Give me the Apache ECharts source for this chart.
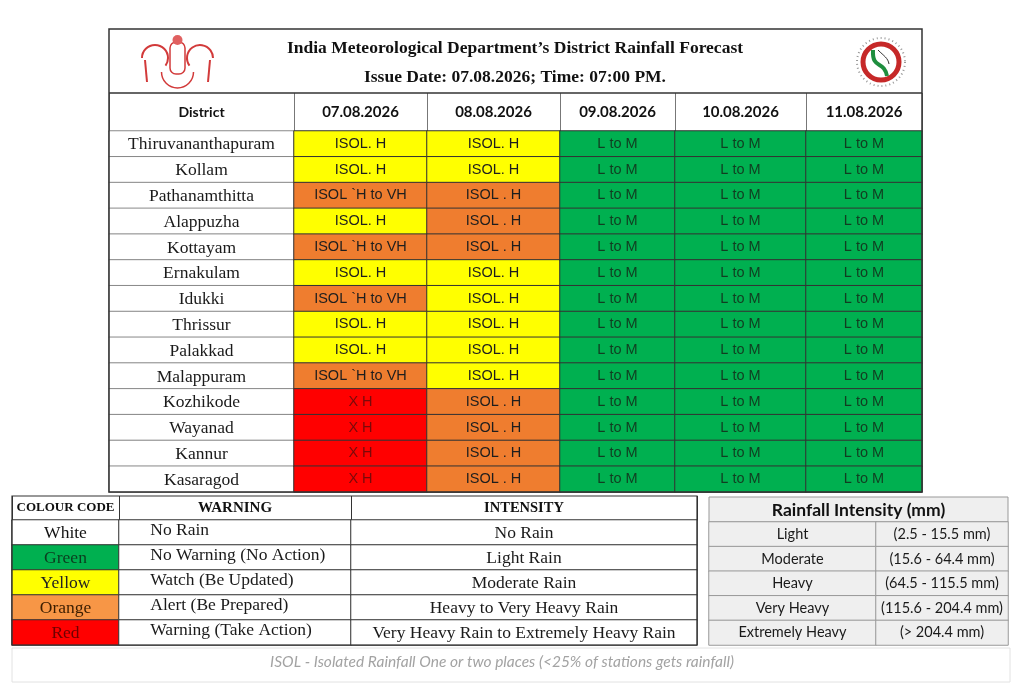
<!DOCTYPE html>
<html>
<head>
<meta charset="utf-8">
<script src="https://cdn.jsdelivr.net/npm/echarts@6/dist/echarts.min.js"></script>
<style>
	html, body { margin:0; padding:0; background:#fff; }
	#grafico { width:1024px; height:691px; }
</style>
</head>
<body>
<div id="grafico"></div>
<script>
	// DADOS DA PREVISAO POR DISTRITO
	// -----------------------------------------------------------------------------------------------
	var distritos = ['Thiruvananthapuram','Kollam','Pathanamthitta','Alappuzha','Kottayam','Ernakulam','Idukki',
		'Thrissur','Palakkad','Malappuram','Kozhikode','Wayanad','Kannur','Kasaragod'];
	var datas = ['07.08.2026','08.08.2026','09.08.2026','10.08.2026','11.08.2026'];

	// nivel do alerta: 0 branco, 1 verde, 2 amarelo, 3 laranja, 4 vermelho
	var nivel07 = [2,2,3,2,3,2,3,2,2,3,4,4,4,4];
	var nivel08 = [2,2,3,3,3,2,2,2,2,2,3,3,3,3];
	var nivel09 = [1,1,1,1,1,1,1,1,1,1,1,1,1,1];
	var nivel10 = [1,1,1,1,1,1,1,1,1,1,1,1,1,1];
	var nivel11 = [1,1,1,1,1,1,1,1,1,1,1,1,1,1];

	var texto07 = ['ISOL. H','ISOL. H','ISOL `H to VH','ISOL. H','ISOL `H to VH','ISOL. H','ISOL `H to VH',
		'ISOL. H','ISOL. H','ISOL `H to VH','X H','X H','X H','X H'];
	var texto08 = ['ISOL. H','ISOL. H','ISOL . H','ISOL . H','ISOL . H','ISOL. H','ISOL. H',
		'ISOL. H','ISOL. H','ISOL. H','ISOL . H','ISOL . H','ISOL . H','ISOL . H'];
	var texto09 = ['L to M','L to M','L to M','L to M','L to M','L to M','L to M','L to M','L to M','L to M','L to M','L to M','L to M','L to M'];
	var texto10 = ['L to M','L to M','L to M','L to M','L to M','L to M','L to M','L to M','L to M','L to M','L to M','L to M','L to M','L to M'];
	var texto11 = ['L to M','L to M','L to M','L to M','L to M','L to M','L to M','L to M','L to M','L to M','L to M','L to M','L to M','L to M'];
	var nivelDistrito = [0,0,0,0,0,0,0,0,0,0,0,0,0,0];

	// LEGENDAS
	var codigos = ['White','Green','Yellow','Orange','Red'];
	var nivelCodigo = [0,1,2,6,4];
	var avisos = ['No Rain','No Warning (No Action)','Watch (Be Updated)','Alert (Be Prepared)','Warning (Take Action)'];
	var intensidades = ['No Rain','Light Rain','Moderate Rain','Heavy to Very Heavy Rain','Very Heavy Rain to Extremely Heavy Rain'];
	var nivelBranco = [0,0,0,0,0];
	var classes = ['Light','Moderate','Heavy','Very Heavy','Extremely Heavy'];
	var faixas = ['(2.5 - 15.5 mm)','(15.6 - 64.4 mm)','(64.5 - 115.5 mm)','(115.6 - 204.4 mm)','(> 204.4 mm)'];
	var nivelCinza = [5,5,5,5,5];

	var cores = ['#ffffff','#00b050','#ffff00','#ef7d2f','#ff0000','#efefef','#f79646'];

	var serif = '"Liberation Serif", "DejaVu Serif", serif';
	var arial = '"Liberation Sans", Arial, sans-serif';
	var calibri = 'Lato, "Open Sans", sans-serif';

	var opcao = {
		animation: false,
		grid: [], xAxis: [], yAxis: [], series: [], graphic: [],
		visualMap: {
			type: 'piecewise', show: false, dimension: 2,
			pieces: cores.map(function(c, i){ return { value: i, color: c }; })
		}
	};

	// MONTA UMA COLUNA DA TABELA (grid + eixos + heatmap)
	var coluna = function(c){
		var i = opcao.grid.length;
		opcao.grid.push({ left: c.x, top: c.y, width: c.w, height: c.h });
		opcao.xAxis.push({
			gridIndex: i, type: 'category', data: [c.titulo || ''], position: 'top',
			show: c.titulo != null,
			axisLine: { show: true, lineStyle: { color: '#333', width: 1 } },
			axisTick: { show: true, length: c.cab || 0, lineStyle: { color: c.bordaCab || '#777' } },
			axisLabel: {
				margin: (c.cab || 0) / 2, verticalAlign: 'middle', interval: 0,
				fontFamily: c.fonteCab || calibri, fontSize: c.tamCab || 15, fontWeight: 'bold', color: '#111'
			},
			splitLine: { show: false }
		});
		opcao.yAxis.push({ gridIndex: i, type: 'category', data: c.linhas, inverse: true, show: false });
		opcao.series.push({
			type: 'heatmap', xAxisIndex: i, yAxisIndex: i, silent: true,
			data: c.niveis.map(function(n, r){
				return { value: [0, r, n], label: { color: c.corTexto ? c.corTexto(n) : '#1a1a1a' } };
			}),
			label: {
				show: true, fontFamily: c.fonte || arial, fontSize: c.tam || 14.5,
				position: c.posicao || 'inside', offset: c.offset || [0, 0],
				formatter: function(p){ return c.textos[p.value[1]]; }
			},
			itemStyle: { borderColor: c.borda || '#333', borderWidth: 1 },
			emphasis: { disabled: true }
		});
	};

	var corCelula = function(n){
		if (n == 4) return '#7a0a0a';
		if (n == 1) return '#113d21';
		return '#1e1e1e';
	};
	var corCodigo = function(n){
		return { 0: '#111', 1: '#0b3d1f', 2: '#222', 6: '#3b1d00', 4: '#6e0000' }[n];
	};

	// TABELA PRINCIPAL
	var topo = 131, altura = 361, cab = 38;
	coluna({ x: 109, w: 185, y: topo, h: altura, cab: cab, titulo: 'District', linhas: distritos,
		niveis: nivelDistrito, textos: distritos, fonte: serif, tam: 17.5, borda: '#888', tamCab: 14, offset: [0, 1] });
	var bordas = [294, 427, 560, 675, 806, 922];
	var niveis = [nivel07, nivel08, nivel09, nivel10, nivel11];
	var textos = [texto07, texto08, texto09, texto10, texto11];
	datas.forEach(function(d, k){
		coluna({ x: bordas[k], w: bordas[k+1] - bordas[k], y: topo, h: altura, cab: cab, titulo: d,
			linhas: distritos, niveis: niveis[k], textos: textos[k], corTexto: corCelula });
	});

	// LEGENDA DE CORES
	coluna({ x: 12, w: 107, y: 520, h: 125, cab: 24, titulo: 'COLOUR CODE', linhas: codigos, niveis: nivelCodigo,
		textos: codigos, fonte: serif, tam: 17.5, fonteCab: serif, tamCab: 13, corTexto: corCodigo, bordaCab: '#333', offset: [0, 1] });
	coluna({ x: 119, w: 232, y: 520, h: 125, cab: 24, titulo: 'WARNING', linhas: avisos, niveis: nivelBranco,
		textos: avisos, fonte: serif, tam: 17.5, fonteCab: serif, tamCab: 15, posicao: 'insideLeft', offset: [27, -2], bordaCab: '#333' });
	coluna({ x: 351, w: 346, y: 520, h: 125, cab: 24, titulo: 'INTENSITY', linhas: intensidades, niveis: nivelBranco,
		textos: intensidades, fonte: serif, tam: 17.5, fonteCab: serif, tamCab: 14.5, bordaCab: '#333', offset: [0, 1] });

	// INTENSIDADE EM MM
	coluna({ x: 709, w: 167, y: 522, h: 123, titulo: null, linhas: classes, niveis: nivelCinza,
		textos: classes, fonte: calibri, tam: 14.5, borda: '#999' });
	coluna({ x: 876, w: 132, y: 522, h: 123, titulo: null, linhas: faixas, niveis: nivelCinza,
		textos: faixas, fonte: calibri, tam: 14.5, borda: '#999' });

	// CABECALHO, MOLDURAS E LOGOS
	opcao.graphic = [
		{ type: 'rect', shape: { x: 109, y: 29, width: 813, height: 463 }, style: { fill: 'none', stroke: '#333', lineWidth: 1.5 }, z: 10 },
		{ type: 'line', shape: { x1: 109, y1: 93, x2: 922, y2: 93 }, style: { stroke: '#333', lineWidth: 1.5 }, z: 10 },
		{ type: 'text', x: 515, y: 48, style: { text: 'India Meteorological Department\u2019s District Rainfall Forecast',
			font: 'bold 17.5px ' + serif, fill: '#111', textAlign: 'center', textVerticalAlign: 'middle' } },
		{ type: 'text', x: 515, y: 77, style: { text: 'Issue Date: 07.08.2026; Time: 07:00 PM.',
			font: 'bold 17.5px ' + serif, fill: '#111', textAlign: 'center', textVerticalAlign: 'middle' } },
		// emblema (esquerda)
		{ type: 'group', children: [
			{ type: 'rect', shape: { x: 170, y: 42, width: 15, height: 32, r: 6 }, style: { fill: 'none', stroke: '#d23a3a', lineWidth: 1.5 } },
			{ type: 'circle', shape: { cx: 177.5, cy: 40, r: 5 }, style: { fill: '#e06060' } },
			{ type: 'arc', shape: { cx: 155, cy: 58, r: 13, startAngle: Math.PI, endAngle: Math.PI * 2.2 }, style: { fill: 'none', stroke: '#d23a3a', lineWidth: 2 } },
			{ type: 'arc', shape: { cx: 200, cy: 58, r: 13, startAngle: Math.PI * 0.8, endAngle: Math.PI * 2 }, style: { fill: 'none', stroke: '#d23a3a', lineWidth: 2 } },
			{ type: 'line', shape: { x1: 145, y1: 60, x2: 147, y2: 82 }, style: { stroke: '#d23a3a', lineWidth: 2 } },
			{ type: 'line', shape: { x1: 210, y1: 60, x2: 208, y2: 82 }, style: { stroke: '#d23a3a', lineWidth: 2 } },
			{ type: 'arc', shape: { cx: 177.5, cy: 72, r: 16, startAngle: 0, endAngle: Math.PI }, style: { fill: 'none', stroke: '#d23a3a', lineWidth: 1.5 } }
		] },
		// logo IMD (direita)
		{ type: 'group', children: [
			{ type: 'circle', shape: { cx: 881, cy: 62, r: 24 }, style: { fill: 'none', stroke: '#999', lineWidth: 2, lineDash: [1, 3] } },
			{ type: 'circle', shape: { cx: 881, cy: 62, r: 18 }, style: { fill: '#fff', stroke: '#c62828', lineWidth: 5 } },
			{ type: 'bezierCurve', shape: { x1: 873, y1: 50, x2: 887, y2: 76, cpx1: 872, cpy1: 70, cpx2: 884, cpy2: 60 }, style: { stroke: '#1e8e3e', lineWidth: 4, fill: 'none' } },
			{ type: 'bezierCurve', shape: { x1: 878, y1: 50, x2: 889, y2: 64, cpx1: 884, cpy1: 56, cpx2: 888, cpy2: 58 }, style: { stroke: '#333', lineWidth: 1, fill: 'none' } }
		] },
		// molduras das legendas
		{ type: 'rect', shape: { x: 12, y: 496, width: 685, height: 149 }, style: { fill: 'none', stroke: '#333', lineWidth: 1.2 }, z: 10 },
		{ type: 'rect', shape: { x: 709, y: 497, width: 299, height: 25 }, style: { fill: '#efefef', stroke: '#999', lineWidth: 1 } },
		{ type: 'text', x: 858.5, y: 510, style: { text: 'Rainfall Intensity (mm)', font: 'bold 17.5px ' + calibri,
			fill: '#111', textAlign: 'center', textVerticalAlign: 'middle' } },
		// nota de rodape
		{ type: 'rect', shape: { x: 12, y: 648, width: 998, height: 34 }, style: { fill: 'none', stroke: '#e2e2e2', lineWidth: 1 } },
		{ type: 'text', x: 502, y: 662, style: { text: 'ISOL - Isolated Rainfall One or two places (<25% of stations gets rainfall)',
			font: 'italic 15.5px ' + calibri, fill: '#a3a3a3', textAlign: 'center', textVerticalAlign: 'middle' } }
	];

	var myChart = echarts.init(document.getElementById('grafico'));
	// aplico as opcoes no chart
	myChart.setOption(opcao);
</script>
</body>
</html>
